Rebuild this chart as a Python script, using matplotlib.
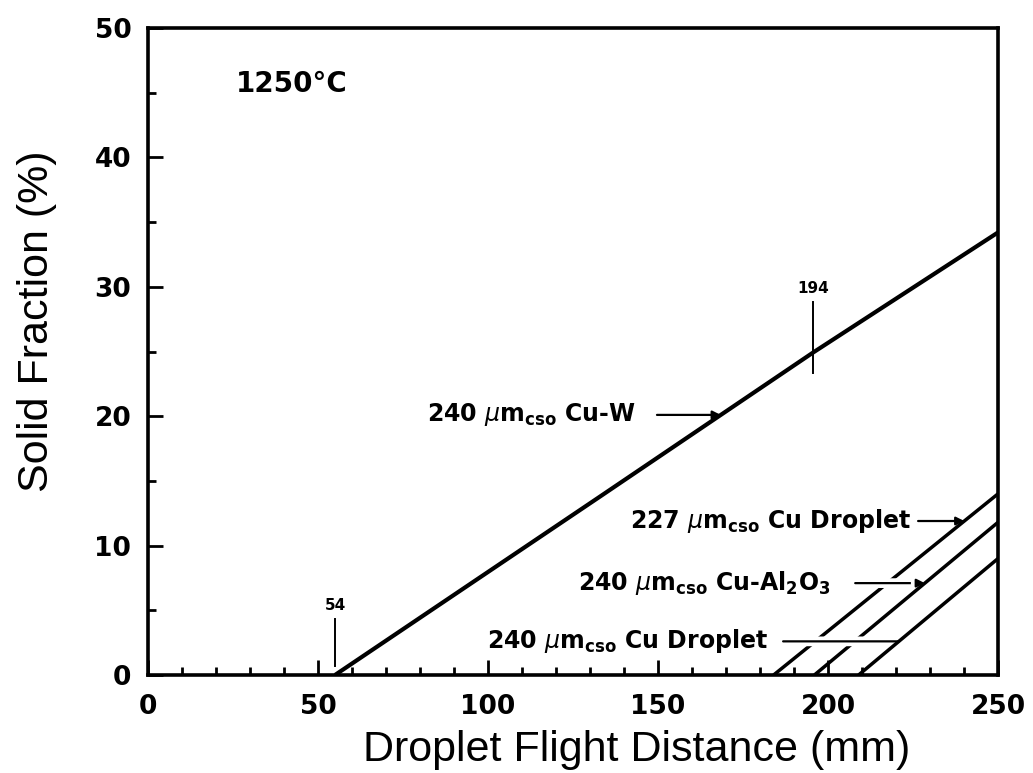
import numpy as np
import matplotlib
matplotlib.use("Agg")
import matplotlib.pyplot as plt
import matplotlib.patheffects as pe
from matplotlib.ticker import MultipleLocator

plt.rcParams['mathtext.default'] = 'regular'

# ---- data ----
cuw_x = [55, 133, 195.5, 250]
cuw_y = [0, 13.8, 24.9, 34.2]
cu227_x = [184, 250]
cu227_y = [0, 14.0]
al2o3_x = [196, 250]
al2o3_y = [0, 11.8]
cu240_x = [209, 250]
cu240_y = [0, 9.0]

marker_x = [55, 195.5]
marker_labels = ['54', '194']
marker_lo = [0.7, 23.3]
marker_hi = [4.3, 28.8]

xticks = [0, 50, 100, 150, 200, 250]
yticks = [0, 10, 20, 30, 40, 50]

label_cuw = r"240 $\mathit{\mu}$m$_{cso}$ Cu-W"
label_227 = r"227 $\mathit{\mu}$m$_{cso}$ Cu Droplet"
label_al = r"240 $\mathit{\mu}$m$_{cso}$ Cu-Al$_2$O$_3$"
label_240 = r"240 $\mathit{\mu}$m$_{cso}$ Cu Droplet"

fig = plt.figure(figsize=(10.33, 7.73), dpi=100)
ax = fig.add_axes([148/1033, 1-675/773, 850/1033, 647/773])
ax.set_xlim(0, 250)
ax.set_ylim(0, 50)

lw_spine = 2.6
for s in ax.spines.values():
    s.set_linewidth(lw_spine)

ax.set_xticks(xticks)
ax.set_yticks(yticks)
ax.xaxis.set_minor_locator(MultipleLocator(10))
ax.yaxis.set_minor_locator(MultipleLocator(5))
ax.tick_params(which='major', direction='in', length=11, width=2.0,
               top=False, right=False, labelsize=19, pad=14)
ax.tick_params(which='minor', direction='in', length=6, width=2.0,
               top=False, right=False)
ax.tick_params(axis='y', which='major', pad=12)
for lab in ax.get_xticklabels() + ax.get_yticklabels():
    lab.set_fontweight('bold')
    lab.set_family('DejaVu Sans')

# curves
ax.plot(cuw_x, cuw_y, color='black', lw=3.0, zorder=2, solid_capstyle='butt')
ax.plot(cu227_x, cu227_y, color='black', lw=2.5, zorder=2, solid_capstyle='butt')
ax.plot(al2o3_x, al2o3_y, color='black', lw=2.5, zorder=4, solid_capstyle='butt')
ax.plot(cu240_x, cu240_y, color='black', lw=2.5, zorder=6, solid_capstyle='butt')

# markers 54 and 194
for mx, ml, lo, hi in zip(marker_x, marker_labels, marker_lo, marker_hi):
    ax.plot([mx, mx], [lo, hi], color='black', lw=1.4, zorder=3)
    ax.text(mx, hi + 0.5, ml, ha='center', va='bottom', fontsize=11,
            fontweight='bold', family='DejaVu Sans')

ax.text(42.3, 45.7, "1250°C", ha='center', va='center', fontsize=20,
        fontweight='bold', family='DejaVu Sans')

txt_kw = dict(ha='left', va='center', fontsize=17, fontweight='bold',
              family='DejaVu Sans')
white = [pe.withStroke(linewidth=7, foreground='white')]


def leader(y, x0, xs, ys, z, head=True, gap=False):
    xt = float(np.interp(y, ys, xs))
    ax.annotate('', xy=(xt, y), xytext=(x0, y), zorder=z,
                arrowprops=dict(arrowstyle='-|>' if head else '-',
                                mutation_scale=12, lw=1.6, color='black',
                                shrinkA=0, shrinkB=0,
                                path_effects=white if gap else None))


# labels
y_cuw = 20.1
ax.text(82.1, y_cuw, label_cuw, **txt_kw)
leader(y_cuw, 149.7, cuw_x, cuw_y, 3)

y_227 = 11.9
ax.text(141.8, y_227, label_227, **txt_kw)
leader(y_227, 226.5, cu227_x, cu227_y, 3)

y_al = 7.1
ax.text(126.5, y_al, label_al, **txt_kw)
leader(y_al, 208, al2o3_x, al2o3_y, 3, gap=True)

y_240 = 2.6
ax.text(99.7, y_240, label_240, **txt_kw)
leader(y_240, 186.8, cu240_x, cu240_y, 5, head=False, gap=True)

ax.set_xlabel("Droplet Flight Distance (mm)", fontsize=31,
              family='Liberation Sans', ha='left', va='top')
ax.xaxis.set_label_coords((363-148)/850, -0.085)
ax.set_ylabel("Solid Fraction (%)", fontsize=31, family='Liberation Sans',
              ha='center', va='center')
ax.yaxis.set_label_coords(-0.13, 0.546)

fig.savefig("out.png", dpi=100)
